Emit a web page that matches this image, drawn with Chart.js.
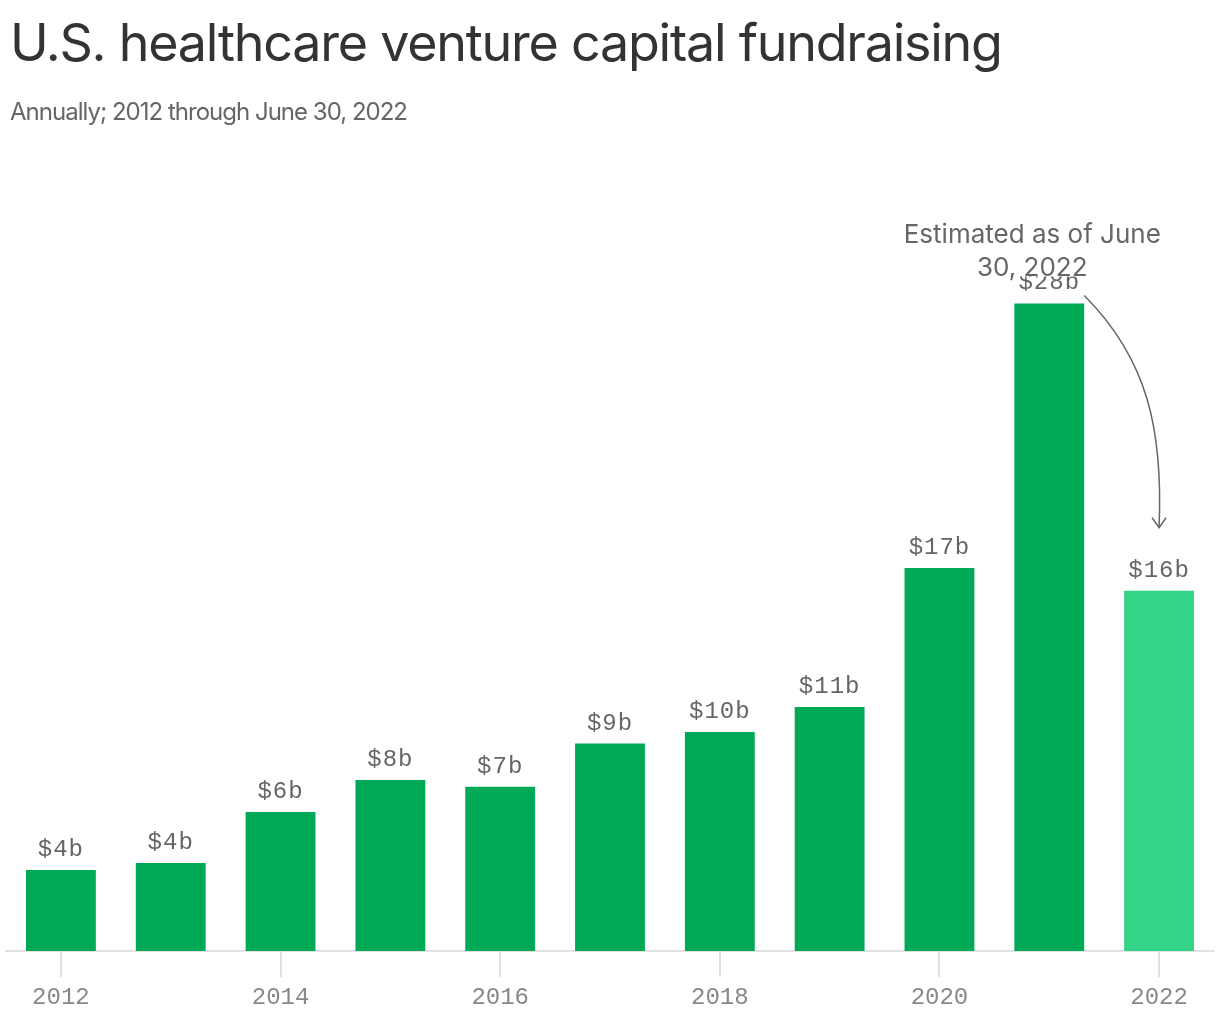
<!DOCTYPE html>
<html>
<head>
<meta charset="utf-8">
<script src="https://cdn.jsdelivr.net/npm/chart.js@4.4.1/dist/chart.umd.min.js"></script>
<style>
  html, body { margin: 0; padding: 0; background: #ffffff; }
  #wrap { position: relative; width: 1220px; height: 1020px; overflow: hidden; }
  #chartBox { position: absolute; left: 0; top: 0; width: 1220px; height: 1020px; }
  #title { position: absolute; left: 10px; top: 13px; font-family: Inter, "Noto Sans", sans-serif; font-size: 52px; line-height: 60px; color: #333333; white-space: nowrap; font-weight: 400; }
  #subtitle { position: absolute; left: 10px; top: 97px; font-family: Inter, "Noto Sans", sans-serif; font-size: 24px; line-height: 30px; color: #666666; white-space: nowrap; }
</style>
</head>
<body>
<div id="wrap">
  <div id="chartBox"><canvas id="c"></canvas></div>
  <div id="title">U.S. healthcare venture capital fundraising</div>
  <div id="subtitle">Annually; 2012 through June 30, 2022</div>
</div>
<script>
// ---- Data ----
const years = ['2012','2013','2014','2015','2016','2017','2018','2019','2020','2021','2022'];
const values = [3.55, 3.86, 6.1, 7.5, 7.2, 9.1, 9.6, 10.7, 16.8, 28.4, 15.8];
const valueLabels = ['$4b','$4b','$6b','$8b','$7b','$9b','$10b','$11b','$17b','$28b','$16b'];
const estimated = [false,false,false,false,false,false,false,false,false,false,true];
const annotationLines = ['Estimated as of June', '30, 2022'];

// ---- Styles ----
const DARK = '#00a955';
const LIGHT = '#33d388';
const MONO = '"Liberation Mono", "DejaVu Sans Mono", monospace';

// fit title/subtitle widths
function fitWidth(id, target) {
  const el = document.getElementById(id);
  const w = el.getBoundingClientRect().width;
  const n = el.textContent.length;
  el.style.letterSpacing = ((target - w) / (n - 1)) + 'px';
}
fitWidth('title', 993);
fitWidth('subtitle', 398);

const labelPlugin = {
  id: 'barLabels',
  afterDatasetsDraw(chart) {
    const ctx = chart.ctx;
    const meta = chart.getDatasetMeta(0);
    ctx.save();
    ctx.font = '24px ' + MONO;
    ctx.fillStyle = '#666666';
    ctx.textAlign = 'center';
    ctx.textBaseline = 'alphabetic';
    try { ctx.letterSpacing = '1px'; } catch (e) {}
    meta.data.forEach((bar, i) => {
      ctx.fillText(valueLabels[i], bar.x, bar.y - 14);
    });
    ctx.restore();

    // annotation
    const b21 = meta.data[9];
    const b22 = meta.data[10];
    ctx.save();
    ctx.font = '26px Inter, "Noto Sans", sans-serif';
    ctx.textAlign = 'center';
    ctx.textBaseline = 'alphabetic';
    const cx = b21.x - 17;
    const y1 = b21.y - 60;
    const y2 = b21.y - 27;
    // white backing behind second line
    const w2 = ctx.measureText(annotationLines[1]).width;
    ctx.fillStyle = '#ffffff';
    ctx.fillRect(cx - w2 / 2 - 3, y2 - 20, w2 + 6, 20);
    ctx.fillStyle = '#666666';
    ctx.fillText(annotationLines[0], cx, y1);
    ctx.fillText(annotationLines[1], cx, y2);

    // curved arrow
    const sx = b21.x + b21.width / 2, sy = b21.y - 8;
    const ex = b22.x, ey = b22.y - 63;
    ctx.strokeStyle = '#666666';
    ctx.lineWidth = 1.5;
    ctx.beginPath();
    ctx.moveTo(sx, sy);
    ctx.bezierCurveTo(sx + 64, sy + 64, ex + 4, ey - 97, ex, ey);
    ctx.stroke();
    ctx.beginPath();
    ctx.moveTo(ex - 7, ey - 10);
    ctx.lineTo(ex, ey);
    ctx.lineTo(ex + 7, ey - 10);
    ctx.stroke();
    ctx.restore();
  }
};

new Chart(document.getElementById('c'), {
  type: 'bar',
  data: {
    labels: years,
    datasets: [{
      data: values,
      backgroundColor: estimated.map(e => e ? LIGHT : DARK),
      borderWidth: 0,
      categoryPercentage: 1,
      barPercentage: 0.636
    }]
  },
  options: {
    responsive: true,
    maintainAspectRatio: false,
    animation: false,
    layout: { padding: { top: 267, left: 6, right: 6, bottom: 0 } },
    plugins: { legend: { display: false }, tooltip: { enabled: false }, title: { display: false } },
    scales: {
      x: {
        afterFit(scale) { scale.height = 69; },
        grid: { display: true, offset: false, drawOnChartArea: false, drawTicks: true, tickLength: 26, color: '#e2e2e2', lineWidth: 2 },
        border: { display: true, color: '#e2e2e2', width: 2 },
        ticks: {
          autoSkip: false, maxRotation: 0, padding: 6,
          color: '#888888',
          font: { family: MONO, size: 24 },
          callback: (v, i) => (i % 2 === 0 ? years[i] : null)
        }
      },
      y: { display: false, min: 0, max: 30 }
    }
  },
  plugins: [labelPlugin]
});
</script>
</body>
</html>
